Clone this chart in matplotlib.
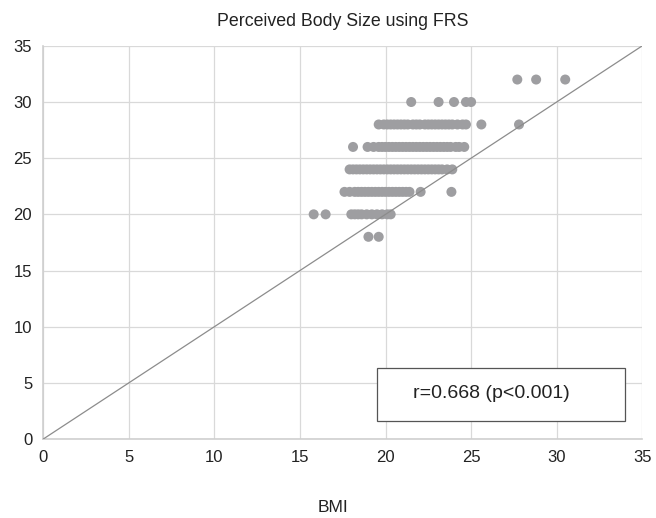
import matplotlib.pyplot as plt
from matplotlib.patches import Rectangle

plt.rcParams['font.family'] = ['Liberation Sans', 'DejaVu Sans']

# BMI values for each perceived body size (FRS) level
bmi_32 = [27.7, 28.8, 30.5]
bmi_30 = [21.5, 23.1, 24.0, 24.7, 25.0]
bmi_28 = [19.6, 19.9, 20.1, 20.3, 20.5, 20.7, 20.9, 21.1, 21.3, 21.6, 21.8, 22.0,
          22.3, 22.5, 22.7, 22.9, 23.1, 23.3, 23.5, 23.7, 23.9, 24.2, 24.5, 24.7,
          25.6, 27.8]
bmi_26 = [18.1, 18.95, 19.3, 19.6, 19.8, 20.0, 20.2, 20.4, 20.6, 20.8, 21.0, 21.2,
          21.4, 21.6, 21.8, 22.0, 22.2, 22.4, 22.6, 22.8, 23.0, 23.2, 23.4, 23.6,
          23.8, 24.1, 24.3, 24.6]
bmi_24 = [17.9, 18.1, 18.3, 18.5, 18.7, 18.9, 19.1, 19.3, 19.5, 19.7, 19.9, 20.1,
          20.3, 20.5, 20.7, 20.9, 21.1, 21.3, 21.5, 21.7, 21.9, 22.1, 22.3, 22.5,
          22.7, 22.9, 23.1, 23.3, 23.6, 23.9]
bmi_22 = [17.6, 17.9, 18.2, 18.4, 18.6, 18.8, 19.0, 19.2, 19.4, 19.6, 19.8, 20.0,
          20.2, 20.4, 20.6, 20.8, 21.0, 21.2, 21.4, 22.05, 23.85]
bmi_20 = [15.8, 16.5, 18.0, 18.2, 18.4, 18.6, 18.9, 19.2, 19.5, 19.8, 20.1, 20.3]
bmi_18 = [19.0, 19.6]

rows = {32: bmi_32, 30: bmi_30, 28: bmi_28, 26: bmi_26,
        24: bmi_24, 22: bmi_22, 20: bmi_20, 18: bmi_18}

ticks = [0, 5, 10, 15, 20, 25, 30, 35]
identity = [0, 35]

fig = plt.figure(figsize=(6.56, 5.18), dpi=100)
ax = fig.add_axes([0.066, 0.1525, 0.913, 0.759])

x_all, y_all = [], []
for frs, bmis in rows.items():
    x_all += bmis
    y_all += [frs] * len(bmis)

ax.plot(identity, identity, color='#8c8c8c', lw=0.9, zorder=3)
ax.scatter(x_all, y_all, s=52, color='#9e9ea1', edgecolors='none', zorder=2)

ax.set_xlim(0, 35)
ax.set_ylim(0, 35)
ax.set_xticks(ticks)
ax.set_yticks(ticks)
ax.grid(True, color='#d9d9d9', lw=0.9, zorder=0)
ax.tick_params(length=0, labelsize=12, colors='#222222', pad=8)
for side in ['top', 'right']:
    ax.spines[side].set_visible(False)
for side in ['left', 'bottom']:
    ax.spines[side].set_color('#cfcfcf')
    ax.spines[side].set_linewidth(1.2)

ax.set_title('Perceived Body Size using FRS', fontsize=12.8, pad=14, color='#222222')
ax.set_xlabel('BMI', fontsize=12.5, color='#222222')
ax.xaxis.set_label_coords(0.483, -0.155)

# correlation annotation box
ax.add_patch(Rectangle((0.558, 0.046), 0.413, 0.135, transform=ax.transAxes,
                       facecolor='white', edgecolor='#555555', lw=0.9, zorder=4))
ax.text(0.748, 0.117, 'r=0.668 (p<0.001)', transform=ax.transAxes,
        ha='center', va='center', fontsize=14, color='#222222', zorder=5)

fig.savefig('out.png', dpi=100)
